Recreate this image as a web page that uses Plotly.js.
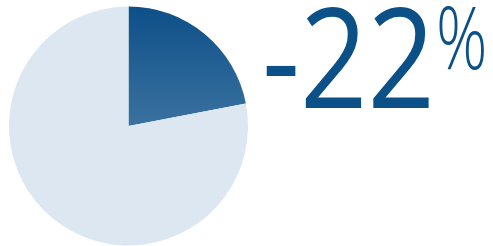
<!DOCTYPE html>
<html><head><meta charset="utf-8">
<script src="https://cdn.plot.ly/plotly-3.0.1.min.js"></script>
<style>
html,body{margin:0;padding:0;background:#fff;}#chart{width:493px;height:246px;}
.annotation-text{transform-box:fill-box;transform-origin:0% 50%;}
</style>
</head><body><div id="chart"></div>
<script>
const labels = ["Change", "Rest"];
const values = [22, 78];
const sliceColors = ["#1f5d90", "#dce7f1"];
const bigText = "-22";
const unitText = "%";

const data = [{
  type: "pie",
  labels: labels,
  values: values,
  sort: false,
  direction: "clockwise",
  rotation: 0,
  textinfo: "none",
  hoverinfo: "none",
  showlegend: false,
  marker: {colors: sliceColors, line: {width: 0}},
  domain: {x: [9/493, 248/493], y: [0.5/246, 239.5/246]}
}];

const layout = {
  width: 493, height: 246,
  margin: {l: 0, r: 0, t: 0, b: 0},
  paper_bgcolor: "#fff", plot_bgcolor: "#fff",
  showlegend: false,
  annotations: [
    {text: bigText, xref: "paper", yref: "paper", x: 260/493, y: 1 - 53.7/246,
     xanchor: "left", yanchor: "middle", showarrow: false,
     font: {family: "Open Sans", size: 139, color: "#0b5087"}},
    {text: unitText, xref: "paper", yref: "paper", x: 434/493, y: 1 - 35.4/246,
     xanchor: "left", yanchor: "middle", showarrow: false,
     font: {family: "Open Sans", size: 86, color: "#0b5087", weight: 300}}
  ]
};

const squeeze = [0.85, 0.74];

Plotly.newPlot("chart", data, layout, {displayModeBar: false, staticPlot: true}).then(function(gd){
  const svg = gd.querySelector("svg.main-svg");
  const ns = "http://www.w3.org/2000/svg";
  let defs = svg.querySelector("defs");
  if (!defs) { defs = document.createElementNS(ns, "defs"); svg.insertBefore(defs, svg.firstChild); }
  const g = document.createElementNS(ns, "linearGradient");
  g.setAttribute("id", "sliceGrad");
  g.setAttribute("x1", "0"); g.setAttribute("y1", "0"); g.setAttribute("x2", "0"); g.setAttribute("y2", "1");
  [["0", "#0d4f88"], ["1", "#3a72a0"]].forEach(function(s){
    const st = document.createElementNS(ns, "stop");
    st.setAttribute("offset", s[0]); st.setAttribute("stop-color", s[1]);
    g.appendChild(st);
  });
  defs.appendChild(g);
  const paths = gd.querySelectorAll(".slice path.surface");
  if (paths.length) paths[0].style.fill = "url(#sliceGrad)";
  gd.querySelectorAll(".annotation-text").forEach(function(t, i){
    t.style.transform = "scaleX(" + squeeze[i] + ")";
  });
});
</script>
</body></html>
